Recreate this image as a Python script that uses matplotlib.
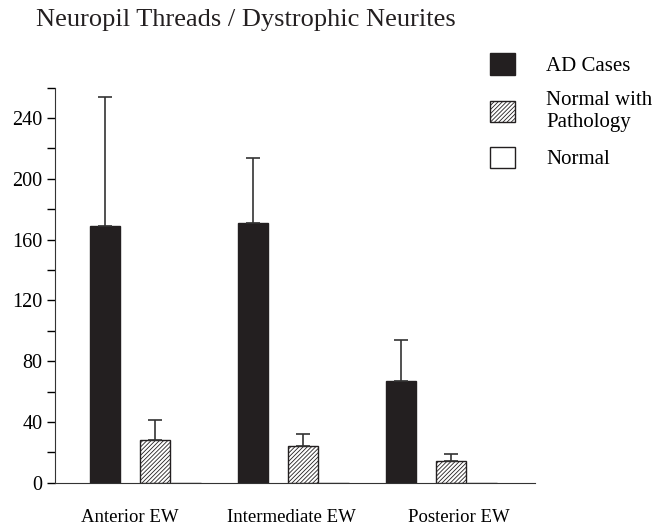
import numpy as np
import matplotlib.pyplot as plt
from matplotlib.patches import Patch

plt.rcParams['font.family'] = ['Liberation Serif', 'DejaVu Serif']
plt.rcParams['hatch.linewidth'] = 0.6

# Données
regions = ['Anterior EW', 'Intermediate EW', 'Posterior EW']
ad_cases = [169, 171, 67]
ad_err = [85, 43, 27]
normal_path = [28, 24, 14]
normal_path_err = [13, 8, 5]
normal = [0, 0, 0]

fig = plt.figure(figsize=(6.58, 5.27), dpi=100)
ax = fig.add_axes([0.0836, 0.0841, 0.729, 0.7495])

x = np.arange(len(regions))
w = 0.205

ax.bar(x, ad_cases, w, color='#231f20', edgecolor='#231f20',
       yerr=[np.zeros(3), ad_err], capsize=5,
       error_kw=dict(elinewidth=1.2, capthick=1.2, ecolor='#333333'))
ax.bar(x + 0.338, normal_path, w, color='white', edgecolor='#231f20',
       hatch='////////', linewidth=1,
       yerr=[np.zeros(3), normal_path_err], capsize=5,
       error_kw=dict(elinewidth=1.2, capthick=1.2, ecolor='#333333'))
ax.bar(x + 0.547, normal, w, color='white', edgecolor='#231f20', linewidth=1)

ax.set_xlim(-0.338, 2.905)
ax.set_ylim(0, 260)
ax.set_yticks(np.arange(0, 241, 40))
ax.set_yticks(np.arange(0, 261, 20), minor=True)
ax.tick_params(axis='y', which='both', direction='out', length=6, width=1,
               labelsize=14.5, pad=3)
ax.set_xticks(x + np.array([0.17, 0.26, 0.39]))
ax.set_xticklabels(regions)
ax.tick_params(axis='x', length=0, labelsize=13.5, pad=19)
ax.spines[['top', 'right']].set_visible(False)
ax.spines[['left', 'bottom']].set_color('#333333')

fig.text(0.055, 0.962, 'Neuropil Threads / Dystrophic Neurites',
         fontsize=19, va='center', ha='left', color='#231f20')

handles = [Patch(facecolor='#231f20', edgecolor='#231f20'),
           Patch(facecolor='white', edgecolor='#231f20', hatch='////////'),
           Patch(facecolor='white', edgecolor='#231f20')]
labels = ['AD Cases', 'Normal with\nPathology', 'Normal']
fig.legend(handles, labels, loc='upper left', bbox_to_anchor=(0.745, 0.899),
           frameon=False, fontsize=15, handlelength=1.2, handleheight=1.2,
           handletextpad=1.5, labelspacing=0.72, borderpad=0, borderaxespad=0)

plt.savefig('out.png', dpi=100)
